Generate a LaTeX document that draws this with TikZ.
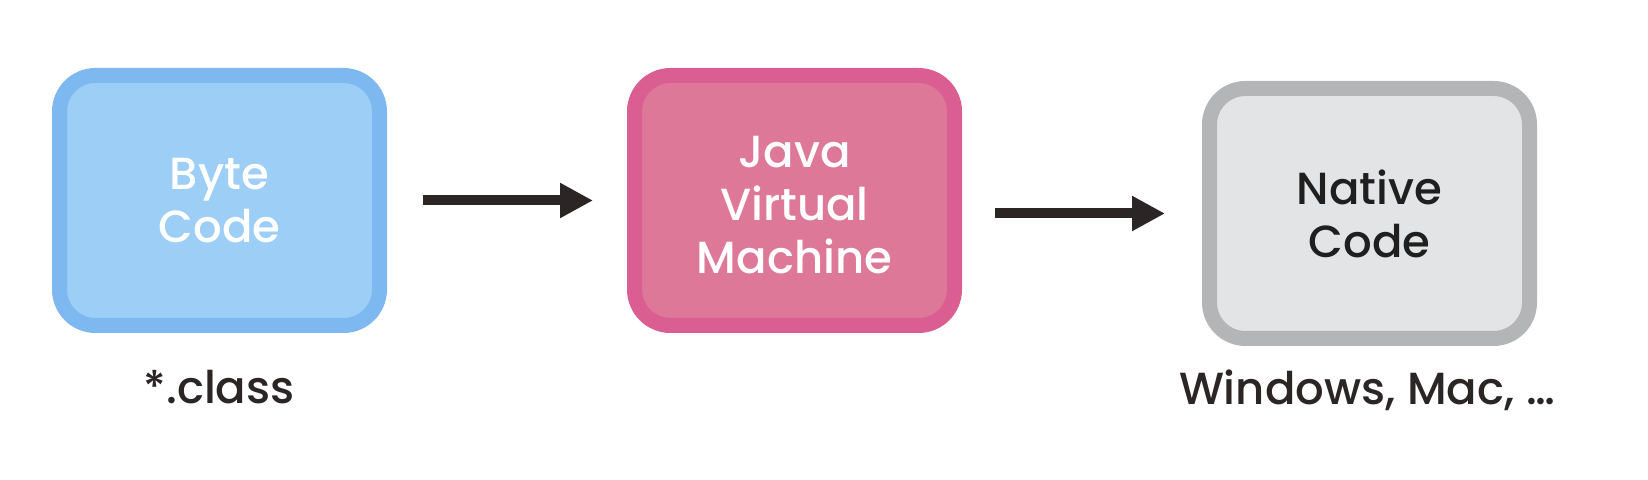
\documentclass[tikz,border=0pt]{standalone}
\usepackage{fontspec}
\setmainfont{Poppins}[UprightFont={* Medium}]
\usetikzlibrary{arrows.meta}

\definecolor{bytefill}{HTML}{9DCEF5}
\definecolor{byteedge}{HTML}{7DB9F0}
\definecolor{jvmfill}{HTML}{DE7898}
\definecolor{jvmedge}{HTML}{DA5E92}
\definecolor{natfill}{HTML}{E3E4E6}
\definecolor{natedge}{HTML}{B4B5B6}
\definecolor{ink}{HTML}{2B2526}

\tikzset{
	x=0.5pt, y=-0.5pt,
	codebox/.style={rounded corners=18pt, line width=7.5pt,
		minimum width=160pt, minimum height=125pt, align=center,
		font=\fontsize{22.5}{26.5}\selectfont, inner sep=0pt},
	boxtext/.style={align=center, font=\fontsize{22.5}{26.5}\selectfont, inner sep=0pt},
	flow/.style={ink, line width=5pt,
		-{Triangle[length=16.5pt,width=16.5pt]}},
	caption/.style={ink, anchor=base, font=\fontsize{22.5}{26.5}\selectfont}
}

\begin{document}
\begin{tikzpicture}
\useasboundingbox (0,0) rectangle (1648,480);

\node[codebox, draw=byteedge, fill=bytefill, text=white] (byte) at (219.5,200.5) {Byte\\Code};
\node[codebox, draw=jvmedge, fill=jvmfill] (jvm) at (794.5,200.5) {};
\node[boxtext, text=white] (jvmtext) at ([yshift=-2.5pt]jvm.center) {Java\\Virtual\\Machine};
\node[codebox, draw=natedge, fill=natfill, text=black!88] (native) at (1369.5,213.5) {Native\\Code};

\draw[flow, shorten <=18pt, shorten >=17pt] (byte) -- (jvm);
\draw[flow, shorten <=16.5pt, shorten >=18.5pt] (jvm.east |- native) -- (native);

\node[caption] (cls) at (219,403) {*.class};
\node[caption] (os) at (1367,405) {Windows, Mac, …};
\end{tikzpicture}
\end{document}
